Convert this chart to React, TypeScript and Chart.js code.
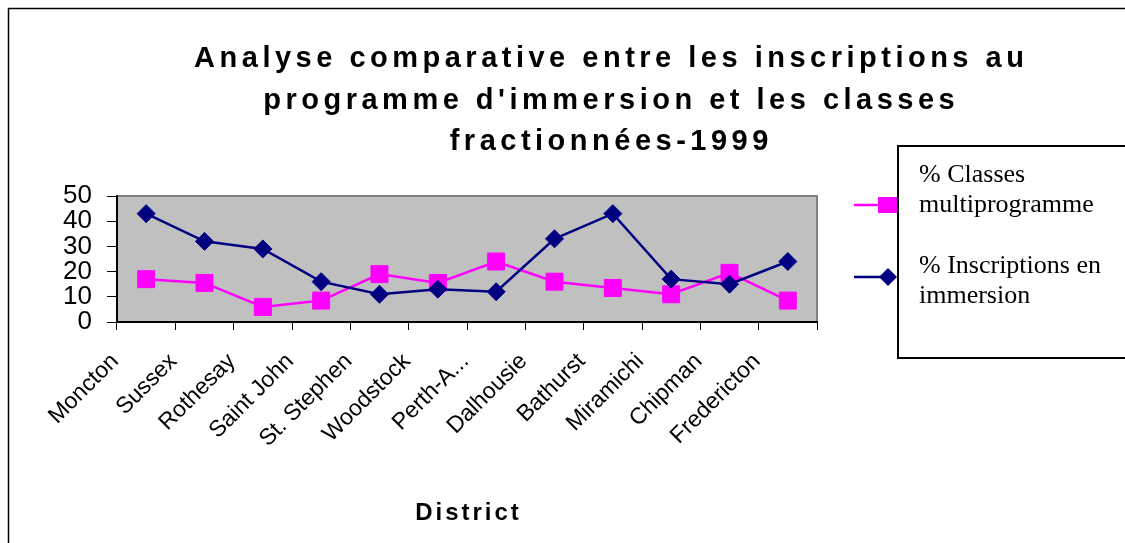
import React, { useEffect, useRef } from 'react';
import { Chart, registerables } from 'chart.js';

Chart.register(...registerables);

const districts = [
  'Moncton', 'Sussex', 'Rothesay', 'Saint John', 'St. Stephen', 'Woodstock',
  'Perth-A...', 'Dalhousie', 'Bathurst', 'Miramichi', 'Chipman', 'Fredericton',
];
const classesMultiprogramme = [17, 15.5, 6, 8.5, 19, 15.5, 24, 16, 13.5, 11, 19.5, 8.5];
const inscriptionsImmersion = [43, 32, 29, 16, 11, 13, 12, 33, 43, 17, 15, 24];
const yMin = 0;
const yMax = 50;
const yStep = 10;
const titleLines = [
  'Analyse comparative entre les inscriptions au',
  "programme d'immersion et les classes",
  'fractionnées-1999',
];
const xAxisTitle = 'District';
const legendMulti = ['% Classes', 'multiprogramme'];
const legendImm = ['% Inscriptions en', 'immersion'];

const PINK = '#FF00FF';
const NAVY = '#000080';
const SANS = '"Liberation Sans", Arial, sans-serif';
const SERIF = '"Liberation Serif", "Times New Roman", serif';

function drawSpaced(ctx: CanvasRenderingContext2D, text: string, cx: number, y: number, spacing: number) {
  (ctx as any).letterSpacing = spacing + 'px';
  const w = ctx.measureText(text).width - spacing;
  ctx.textAlign = 'left';
  ctx.fillText(text, cx - w / 2, y);
  (ctx as any).letterSpacing = '0px';
}

const decorPlugin = {
  id: 'decor',
  beforeDraw(chart: any) {
    const { ctx, chartArea: a } = chart;
    ctx.save();
    ctx.fillStyle = '#ffffff';
    ctx.fillRect(0, 0, chart.width, chart.height);
    // outer frame
    ctx.strokeStyle = '#000';
    ctx.lineWidth = 1.5;
    ctx.beginPath();
    ctx.moveTo(8.5, chart.height + 5);
    ctx.lineTo(8.5, 8.5);
    ctx.lineTo(chart.width + 5, 8.5);
    ctx.stroke();
    // plot background
    ctx.fillStyle = '#C0C0C0';
    ctx.fillRect(a.left, a.top, a.right - a.left, a.bottom - a.top);
    ctx.strokeStyle = '#808080';
    ctx.lineWidth = 2;
    ctx.beginPath();
    ctx.moveTo(a.left, a.top);
    ctx.lineTo(a.right, a.top);
    ctx.lineTo(a.right, a.bottom);
    ctx.stroke();
    ctx.restore();
  },
  afterDraw(chart: any) {
    const { ctx, chartArea: a } = chart;
    ctx.save();
    ctx.fillStyle = '#000';
    ctx.textBaseline = 'alphabetic';
    // title
    ctx.font = `bold 29px ${SANS}`;
    const baselines = [67, 109, 150];
    titleLines.forEach((t, i) => drawSpaced(ctx, t, 609, baselines[i], 4.5));
    // axis title
    ctx.font = `bold 24px ${SANS}`;
    drawSpaced(ctx, xAxisTitle, (a.left + a.right) / 2, 520, 3);

    // legend box
    ctx.strokeStyle = '#000';
    ctx.lineWidth = 2;
    ctx.strokeRect(898, 146, 260, 212);
    // pink marker
    ctx.strokeStyle = PINK;
    ctx.lineWidth = 2.5;
    ctx.beginPath();
    ctx.moveTo(854, 205);
    ctx.lineTo(887, 205);
    ctx.stroke();
    ctx.fillStyle = PINK;
    ctx.fillRect(878, 197, 19, 16);
    // navy marker
    ctx.strokeStyle = NAVY;
    ctx.beginPath();
    ctx.moveTo(854, 277);
    ctx.lineTo(888, 277);
    ctx.stroke();
    ctx.fillStyle = NAVY;
    ctx.beginPath();
    ctx.moveTo(879, 277);
    ctx.lineTo(888, 268);
    ctx.lineTo(897, 277);
    ctx.lineTo(888, 286);
    ctx.closePath();
    ctx.fill();
    ctx.strokeStyle = '#000';
    ctx.lineWidth = 2;
    ctx.beginPath();
    ctx.moveTo(898, 146);
    ctx.lineTo(898, 358);
    ctx.stroke();
    // legend text
    ctx.fillStyle = '#000';
    ctx.font = `26px ${SERIF}`;
    ctx.textAlign = 'left';
    ctx.fillText(legendMulti[0], 919, 182);
    ctx.fillText(legendMulti[1], 919, 212);
    ctx.fillText(legendImm[0], 919, 273);
    ctx.fillText(legendImm[1], 919, 303);
    ctx.restore();
  },
};

export default function App() {
  const canvasRef = useRef<HTMLCanvasElement | null>(null);

  useEffect(() => {
    if (!canvasRef.current) return;
    const chart = new Chart(canvasRef.current, {
      type: 'line',
      data: {
        labels: districts,
        datasets: [
          {
            label: '% Classes multiprogramme',
            data: classesMultiprogramme,
            borderColor: PINK,
            backgroundColor: PINK,
            pointBackgroundColor: PINK,
            pointBorderColor: PINK,
            borderWidth: 2.5,
            pointStyle: 'rect',
            pointRadius: 12,
            pointBorderWidth: 1,
            tension: 0,
            order: 1,
            clip: false,
          } as any,
          {
            label: '% Inscriptions en immersion',
            data: inscriptionsImmersion,
            borderColor: NAVY,
            backgroundColor: NAVY,
            pointBackgroundColor: NAVY,
            pointBorderColor: NAVY,
            borderWidth: 2.5,
            pointStyle: 'rectRot',
            pointRadius: 9,
            pointBorderWidth: 1,
            tension: 0,
            order: 0,
            clip: false,
          } as any,
        ],
      },
      options: {
        animation: false,
        responsive: true,
        maintainAspectRatio: false,
        layout: { padding: { left: 57, right: 308, top: 196, bottom: 71 } },
        plugins: {
          legend: { display: false },
          title: { display: false },
          tooltip: { enabled: false },
        },
        scales: {
          x: {
            type: 'category',
            offset: true,
            grid: {
              offset: true,
              drawOnChartArea: false,
              drawTicks: true,
              tickLength: 8,
              color: '#000',
              lineWidth: 1,
            },
            border: { color: '#000', width: 2 },
            ticks: {
              autoSkip: false,
              minRotation: 45,
              maxRotation: 45,
              labelOffset: -31,
              padding: 18,
              color: '#000',
              font: { family: SANS, size: 23 },
            },
            afterFit: (s: any) => {
              s.height = 150;
            },
          },
          y: {
            min: yMin,
            max: yMax,
            ticks: {
              stepSize: yStep,
              autoSkip: false,
              padding: 15,
              color: '#000',
              font: { family: SANS, size: 26 },
            },
            grid: {
              drawOnChartArea: false,
              drawTicks: true,
              tickLength: 10,
              color: '#000',
              lineWidth: 1,
            },
            border: { color: '#000', width: 2 },
            afterFit: (s: any) => {
              s.width = 60;
            },
          },
        },
      } as any,
      plugins: [decorPlugin],
    });
    return () => chart.destroy();
  }, []);

  return (
    <div style={{ position: 'fixed', left: 0, top: 0, width: 1125, height: 543 }}>
      <canvas ref={canvasRef} />
    </div>
  );
}
